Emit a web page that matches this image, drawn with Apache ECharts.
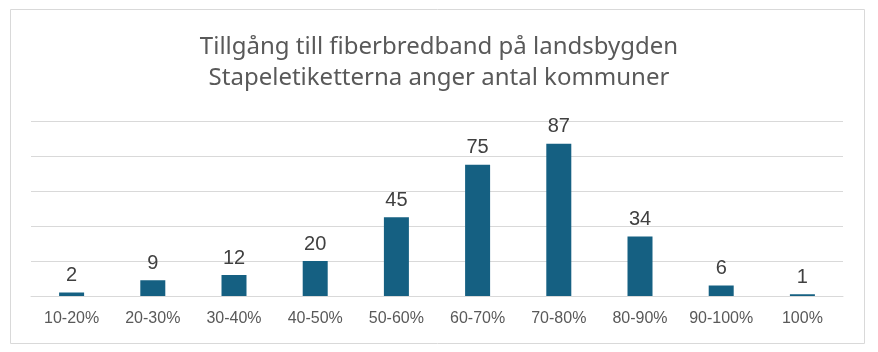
<!DOCTYPE html>
<html>
<head>
<meta charset="utf-8">
<script src="https://cdn.jsdelivr.net/npm/echarts@6/dist/echarts.min.js"></script>
<style>
  html, body { margin: 0; padding: 0; background: #fff; }
  #chart { width: 878px; height: 352px; }
</style>
</head>
<body>
<div id="chart"></div>
<script>
const categories = ['10-20%', '20-30%', '30-40%', '40-50%', '50-60%', '60-70%', '70-80%', '80-90%', '90-100%', '100%']
const kommuner = [2, 9, 12, 20, 45, 75, 87, 34, 6, 1]
const titleLines = ['Tillgång till fiberbredband på landsbygden', 'Stapeletiketterna anger antal kommuner']

const chart = echarts.init(document.getElementById('chart'))

chart.setOption({
  animation: false,
  title: {
    text: titleLines.join('\n'),
    left: 'center',
    top: 27,
    textStyle: {
      fontFamily: 'Noto Sans',
      fontSize: 24,
      fontWeight: 'normal',
      color: '#595959',
      lineHeight: 31,
    },
  },
  graphic: [
    {
      type: 'rect',
      shape: { x: 10.5, y: 9.5, width: 854, height: 334 },
      style: { fill: 'none', stroke: '#d9d9d9', lineWidth: 1 },
      silent: true,
    },
  ],
  grid: {
    left: 31,
    right: 35,
    top: 121,
    bottom: 56,
    containLabel: false,
  },
  xAxis: {
    type: 'category',
    data: categories,
    axisLine: { lineStyle: { color: '#d9d9d9' } },
    axisTick: { show: false },
    axisLabel: {
      interval: 0,
      margin: 15,
      color: '#595959',
      fontFamily: 'Liberation Sans',
      fontSize: 16,
    },
  },
  yAxis: {
    type: 'value',
    min: 0,
    max: 100,
    interval: 20,
    axisLabel: { show: false },
    axisLine: { show: false },
    axisTick: { show: false },
    splitLine: { lineStyle: { color: '#d9d9d9' } },
  },
  series: [
    {
      type: 'bar',
      data: kommuner,
      barWidth: 25,
      itemStyle: { color: '#156082' },
      label: {
        show: true,
        position: 'top',
        distance: 7,
        color: '#404040',
        fontFamily: 'Liberation Sans',
        fontSize: 20,
      },
    },
  ],
})
</script>
</body>
</html>
